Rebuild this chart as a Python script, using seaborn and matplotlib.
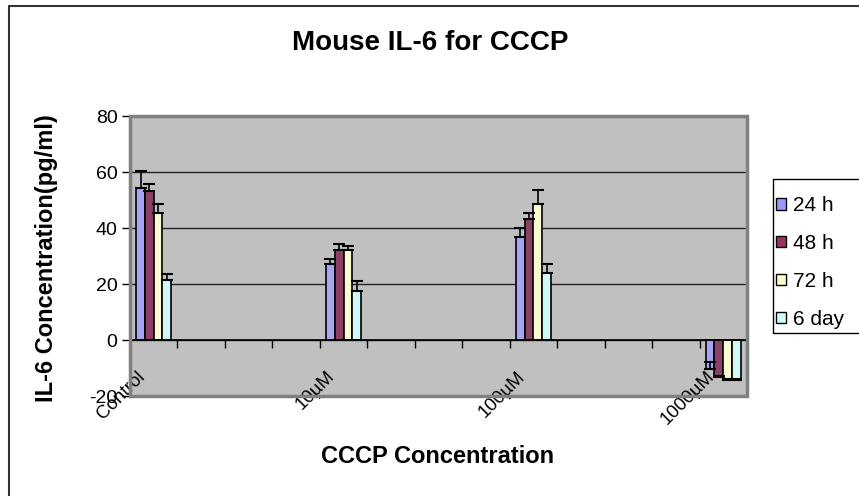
import numpy as np
import pandas as pd
import matplotlib
matplotlib.use("Agg")
import matplotlib.pyplot as plt
from matplotlib.lines import Line2D
from matplotlib.patches import Rectangle
from matplotlib.transforms import ScaledTranslation
import seaborn as sns

# data
categories = ["Control", "10µM", "100µM", "1000µM"]
series = ["24 h", "48 h", "72 h", "6 day"]
vals_24h = [54.3, 27.0, 36.7, -10.5]
vals_48h = [53.2, 32.0, 43.2, -13.2]
vals_72h = [45.3, 32.0, 48.6, -14.4]
vals_6day = [21.6, 17.6, 24.1, -14.3]
err_24h = [6.0, 1.8, 3.3, 2.5]
err_48h = [2.6, 2.2, 2.1, 0.5]
err_72h = [3.3, 1.5, 5.0, 0.5]
err_6day = [2.1, 3.3, 3.2, 0.5]
colors = ["#9999FF", "#993366", "#FFFFCC", "#CCFFFF"]
yticks = [-20, 0, 20, 40, 60, 80]

values = [vals_24h, vals_48h, vals_72h, vals_6day]
errors = [err_24h, err_48h, err_72h, err_6day]
df = pd.DataFrame({
    "conc": np.repeat([categories], len(series), axis=0).ravel(),
    "time": np.repeat(series, len(categories)),
    "il6": np.ravel(values),
})

sns.set_theme(style="white", rc={"text.color": "black", "axes.labelcolor": "black",
                                 "xtick.color": "black", "ytick.color": "black",
                                 "axes.unicode_minus": False})
plt.rcParams["font.family"] = ["Liberation Sans", "DejaVu Sans"]

fig = plt.figure(figsize=(8.59, 4.96), dpi=100)
ax = fig.add_axes([0.1513, 0.2016, 0.7183, 0.5645])
ax.set_facecolor("#C0C0C0")

# Excel axis had 13 slots, labelled categories every 4th slot
slot = 0.25
sns.barplot(data=df, x="conc", y="il6", hue="time", order=categories,
            hue_order=series, palette=colors, width=0.74 * slot,
            edgecolor="black", linewidth=1.2, errorbar=None, ax=ax,
            legend=False, zorder=3)

# plus-only error bars (drawn from the bar end, upwards)
for cont, err in zip(ax.containers, errors):
    for bar, e in zip(cont, err):
        xc = bar.get_x() + bar.get_width() / 2
        y = bar.get_y() + bar.get_height()
        ax.errorbar(xc, y, yerr=[[0], [e]], fmt="none", ecolor="black",
                    elinewidth=1.2, capsize=4.5, capthick=1.5, zorder=4)

ax.set_xlim(-slot / 2, len(categories) - 1 + slot / 2)
ax.set_ylim(-20, 80)
ax.set_yticks(yticks)
ax.yaxis.grid(True, color="#222222", linewidth=1, zorder=0)
ax.set_axisbelow(True)

for s in ["top", "right"]:
    ax.spines[s].set_visible(False)
ax.spines["left"].set_color("black")
ax.spines["left"].set_linewidth(1)
ax.spines["bottom"].set_position(("data", 0))
ax.spines["bottom"].set_color("black")
ax.spines["bottom"].set_linewidth(1.2)
ax.spines["bottom"].set_zorder(5)

ax.set_xticks(np.arange(-slot / 2, len(categories) - 1 + slot, slot), minor=True)
ax.tick_params(axis="x", which="minor", bottom=True, length=6, width=1,
               color="black", direction="out")
ax.tick_params(axis="x", which="major", bottom=True, length=0, pad=20,
               labelsize=13.5, labelcolor="black")
ax.tick_params(axis="y", left=True, length=6, width=1, color="black",
               direction="out", labelsize=14, labelcolor="black", pad=3)
for lab in ax.get_xticklabels():
    lab.set_rotation(45)
    lab.set_ha("right")
    lab.set_va("top")
    lab.set_rotation_mode("anchor")
    lab.set_transform(lab.get_transform() + ScaledTranslation(-12.5 / 72, 0, fig.dpi_scale_trans))

ax.set_xlabel("")
ax.set_ylabel("")
ax.add_patch(Rectangle((0, 0), 1, 1, transform=ax.transAxes, fill=False,
                       edgecolor="#808080", linewidth=2.5, clip_on=False, zorder=6))

fig.text(0.5006, 0.913, "Mouse IL-6 for CCCP", ha="center", va="center",
         fontsize=20, fontweight="bold")
fig.text(0.054, 0.48, "IL-6 Concentration(pg/ml)", ha="center", va="center",
         rotation=90, fontsize=17, fontweight="bold")
fig.text(0.509, 0.079, "CCCP Concentration", ha="center", va="center",
         fontsize=17, fontweight="bold")

handles = [Rectangle((0, 0), 1, 1, facecolor=c, edgecolor="black", linewidth=1)
           for c in colors]
leg = fig.legend(handles, series, loc="upper left",
                 bbox_to_anchor=(0.8917, 0.625), fontsize=15, frameon=False,
                 handlelength=0.45, handleheight=0.45, handletextpad=0.35,
                 labelspacing=0.9, borderpad=0.5, borderaxespad=0)
# legend frame, runs off the right edge like in the original
fig.add_artist(Rectangle((0.9, 0.329), 0.2, 0.31, transform=fig.transFigure,
                         fill=False, edgecolor="black", linewidth=1))

# chart frame (only left and top edges visible)
fig.add_artist(Line2D([0.0105, 0.0105], [0, 0.988], transform=fig.transFigure,
                      color="#333333", linewidth=1.5))
fig.add_artist(Line2D([0.0105, 1], [0.988, 0.988], transform=fig.transFigure,
                      color="#333333", linewidth=1.5))

fig.savefig("out.png", dpi=100)
plt.close(fig)
